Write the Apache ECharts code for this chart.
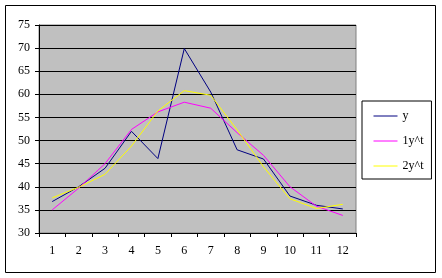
<!DOCTYPE html>
<html><head><meta charset="utf-8">
<script src="https://cdn.jsdelivr.net/npm/echarts@6/dist/echarts.min.js"></script>
<style>html,body{margin:0;padding:0;background:#fff}#c{width:442px;height:278px}</style>
</head><body><div id="c"></div>
<script>
const categories = ['1','2','3','4','5','6','7','8','9','10','11','12'];
const seriesY  = [36.8, 40.0, 44.0, 52.0, 46.1, 69.9, 60.5, 48.0, 46.0, 38.0, 36.0, 35.2];
const series1Y = [35.0, 39.7, 45.0, 52.4, 56.2, 58.3, 57.0, 51.7, 46.8, 40.0, 35.8, 33.8];
const series2Y = [37.6, 39.9, 42.7, 48.8, 56.4, 60.8, 59.8, 52.3, 44.3, 37.4, 35.3, 36.2];
const seriesNames = ['y', '1y^t', '2y^t'];

const font = 'Liberation Serif';
const chart = echarts.init(document.getElementById('c'), null, {renderer: 'canvas'});
const mk = (name, data, color) => ({
  name, type: 'line', data, symbol: 'none', showSymbol: false,
  lineStyle: {color, width: 1}, itemStyle: {color}, animation: false
});
chart.setOption({
  animation: false,
  backgroundColor: '#fff',
  graphic: [{type: 'rect', shape: {x: 5.5, y: 5.5, width: 430, height: 267},
    style: {fill: 'none', stroke: '#000', lineWidth: 1}, silent: true}],
  grid: {left: 39, right: 86, top: 25, bottom: 45, show: true,
    backgroundColor: '#c0c0c0', borderColor: '#808080', borderWidth: 1},
  legend: {
    orient: 'vertical', left: 362, top: 101,
    data: seriesNames,
    itemWidth: 24, itemHeight: 14, itemGap: 13,
    padding: [9, 8, 7, 11],
    borderColor: '#000', borderWidth: 1,
    itemStyle: {opacity: 0},
    lineStyle: {width: 1},
    textStyle: {fontFamily: font, fontSize: 12, color: '#000'}
  },
  xAxis: {
    type: 'category', data: categories, boundaryGap: true,
    axisLine: {lineStyle: {color: '#000', width: 1}},
    axisTick: {show: true, length: 4, alignWithLabel: false, lineStyle: {color: '#000'}},
    axisLabel: {fontFamily: font, fontSize: 12, color: '#000', margin: 12, interval: 0},
    splitLine: {show: false}
  },
  yAxis: {
    type: 'value', min: 30, max: 75, interval: 5,
    axisLine: {show: true, lineStyle: {color: '#000', width: 1}},
    axisTick: {show: true, length: 4, lineStyle: {color: '#000'}},
    axisLabel: {fontFamily: font, fontSize: 12, color: '#000', margin: 9},
    splitLine: {show: true, lineStyle: {color: '#000', width: 1}}
  },
  series: [
    mk(seriesNames[0], seriesY, '#000080'),
    mk(seriesNames[1], series1Y, '#ff00ff'),
    mk(seriesNames[2], series2Y, '#ffff00')
  ]
});
</script></body></html>
